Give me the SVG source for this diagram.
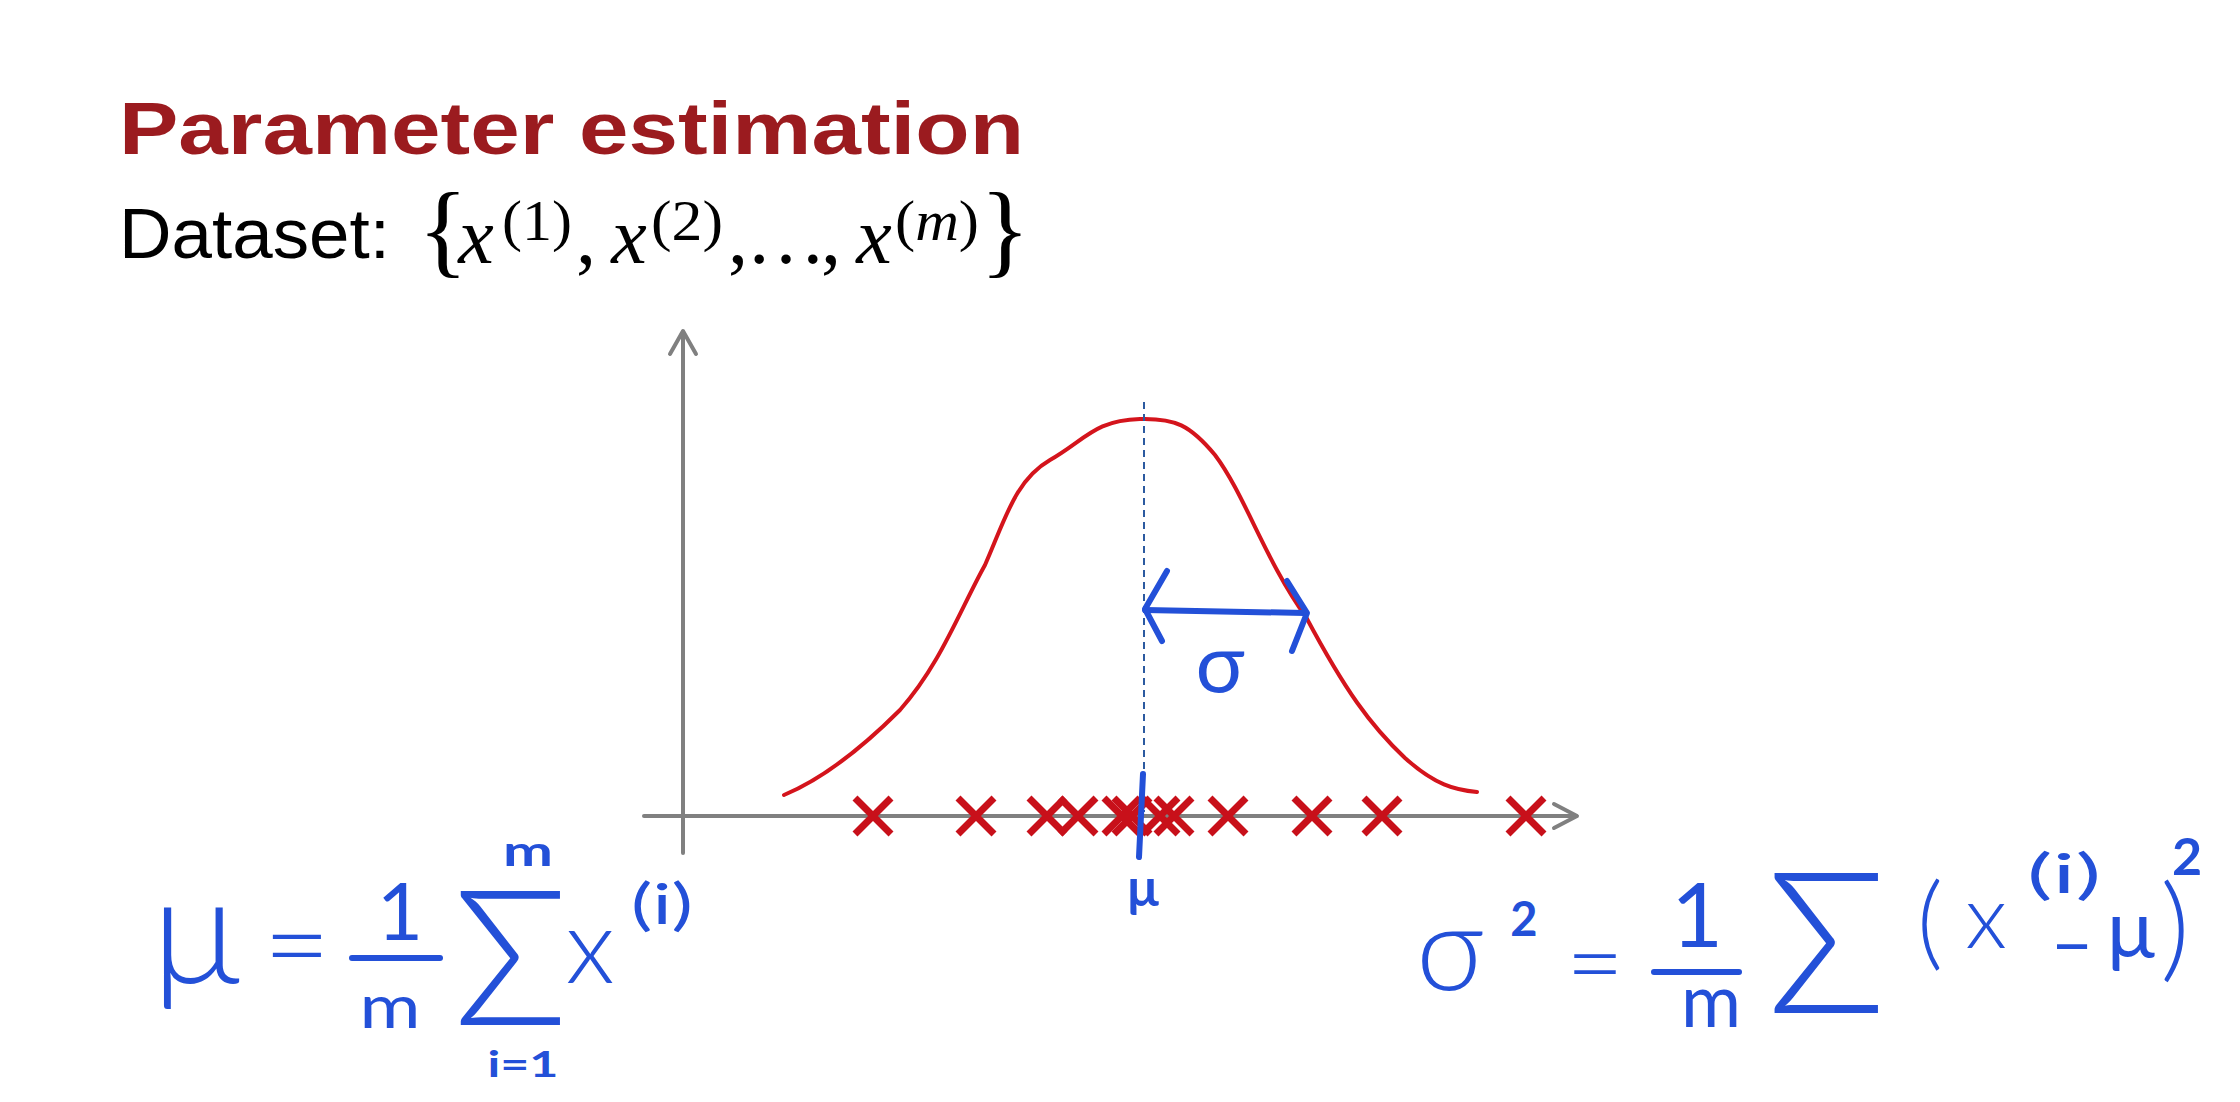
<svg xmlns="http://www.w3.org/2000/svg" width="2240" height="1102" viewBox="0 0 2240 1102">
<style>
.title{font-family:"Liberation Sans",Arial,sans-serif;font-weight:bold;fill:#9b1b1f}
.label{font-family:"Liberation Sans",Arial,sans-serif;fill:#000}
.math{font-family:"Liberation Serif","Times New Roman",serif;fill:#000}
.it{font-style:italic}
.hw{font-family:Lato,"DejaVu Sans",sans-serif;font-weight:300;fill:#2350d8;text-anchor:middle}
.hm{font-weight:400}
.hb{font-weight:700}
.axis{stroke:#808080;stroke-width:4;fill:none;stroke-linecap:round;stroke-linejoin:round}
.curve{stroke:#d4141c;stroke-width:4;fill:none;stroke-linecap:round;stroke-linejoin:round}
.xm{stroke:#c8101a;stroke-width:7;stroke-linecap:butt}
.blue{stroke:#2350d8;stroke-width:6;fill:none;stroke-linecap:round;stroke-linejoin:round}
</style>
<rect width="2240" height="1102" fill="#ffffff"/>
<g id="title">
<text class="title" x="119" y="154" font-size="74" textLength="905" lengthAdjust="spacingAndGlyphs">Parameter estimation</text>
</g>
<g id="dataset">
<text class="label" x="119" y="258" font-size="70" textLength="271" lengthAdjust="spacingAndGlyphs">Dataset:</text>
<g class="math" text-anchor="middle">
<text x="443" y="264" font-size="104">{</text>
<text class="it" x="476" y="263" font-size="80">x</text>
<text x="537" y="240" font-size="56" textLength="70" lengthAdjust="spacingAndGlyphs">(1)</text>
<text x="586" y="263" font-size="80">,</text>
<text class="it" x="629" y="263" font-size="80">x</text>
<text x="687" y="240" font-size="56" textLength="72" lengthAdjust="spacingAndGlyphs">(2)</text>
<text x="738" y="263" font-size="80">,</text>
<text x="786" y="263" font-size="80">…</text>
<text x="831" y="263" font-size="80">,</text>
<text class="it" x="874" y="263" font-size="80">x</text>
<text x="937" y="240" font-size="56" textLength="84" lengthAdjust="spacingAndGlyphs">(<tspan class="it">m</tspan>)</text>
<text x="1005" y="264" font-size="104">}</text>
</g>
</g>
<g id="axes">
<line class="axis" x1="683" y1="853" x2="683" y2="332"/>
<polyline class="axis" points="670,354 683,331 696,354"/>
<line class="axis" x1="644" y1="816" x2="1576" y2="816"/>
<polyline class="axis" points="1554,804 1577,816 1554,828"/>
</g>
<g id="gaussian-curve">
<path class="curve" d="M784,795 C820,780 860,750 900,710 C940,665 960,610 985,565 C1005,520 1015,480 1050,460 C1085,440 1095,420 1140,419 C1175,418 1190,425 1215,455 C1245,495 1265,560 1306,617 C1345,690 1370,725 1405,758 C1435,785 1455,790 1477,792"/>
</g>
<g id="mean-line">
<line x1="1144" y1="402" x2="1144" y2="812" stroke="#2c5aa0" stroke-width="2" stroke-dasharray="7,5"/>
</g>
<g id="data-points">
<path class="xm" d="M855,798 l36,36 M891,798 l-36,36"/>
<path class="xm" d="M958,798 l36,36 M994,798 l-36,36"/>
<path class="xm" d="M1029,798 l36,36 M1065,798 l-36,36"/>
<path class="xm" d="M1060,798 l36,36 M1096,798 l-36,36"/>
<path class="xm" d="M1104,798 l36,36 M1140,798 l-36,36"/>
<path class="xm" d="M1114,798 l36,36 M1150,798 l-36,36"/>
<path class="xm" d="M1142,798 l36,36 M1178,798 l-36,36"/>
<path class="xm" d="M1156,798 l36,36 M1192,798 l-36,36"/>
<path class="xm" d="M1210,798 l36,36 M1246,798 l-36,36"/>
<path class="xm" d="M1294,798 l36,36 M1330,798 l-36,36"/>
<path class="xm" d="M1364,798 l36,36 M1400,798 l-36,36"/>
<path class="xm" d="M1508,798 l36,36 M1544,798 l-36,36"/>
</g>
<g id="mu-marker">
<line class="blue" x1="1143" y1="774" x2="1139" y2="857" stroke-width="5"/>
<text class="hw hb" x="1143" y="906" font-size="52">μ</text>
</g>
<g id="sigma-arrow">
<polyline class="blue" points="1145,610 1305,613"/>
<polyline class="blue" points="1167,571 1145,609 1162,641"/>
<polyline class="blue" points="1287,581 1307,613 1292,651"/>
<text class="hw hm" x="1220" y="692" font-size="82">σ</text>
</g>
<g id="mean-formula">
<text class="hw" x="196" y="983" font-size="150">μ</text>
<text class="hw" x="297" y="985" font-size="116">=</text>
<text class="hw hm" x="400" y="940" font-size="80">1</text>
<line class="blue" x1="352" y1="958" x2="440" y2="958"/>
<text class="hw hm" x="390" y="1028" font-size="60" textLength="61" lengthAdjust="spacingAndGlyphs">m</text>
<text class="hw" x="511" y="1025" font-size="190">Σ</text>
<text class="hw hb" x="528" y="866" font-size="42" textLength="50" lengthAdjust="spacingAndGlyphs">m</text>
<text class="hw hb" x="523" y="1077" font-size="36" textLength="71" lengthAdjust="spacingAndGlyphs">i=1</text>
<text class="hw" x="590" y="983" font-size="105">x</text>
<text class="hw hm" x="662" y="924" font-size="56" textLength="62" lengthAdjust="spacingAndGlyphs">(i)</text>
</g>
<g id="variance-formula">
<text class="hw" x="1450" y="990" font-size="118">σ</text>
<text class="hw hb" x="1524" y="936" font-size="47">2</text>
<text class="hw" x="1595" y="998" font-size="100">=</text>
<text class="hw hm" x="1697" y="947" font-size="90">1</text>
<line class="blue" x1="1654" y1="972" x2="1739" y2="972"/>
<text class="hw hm" x="1711" y="1027" font-size="73">m</text>
<text class="hw" x="1827" y="1013" font-size="198">Σ</text>
<text class="hw" x="1930" y="957" font-size="102">(</text>
<text class="hw" x="1986" y="948" font-size="89">x</text>
<text class="hw hm" x="2064" y="893" font-size="54" textLength="74" lengthAdjust="spacingAndGlyphs">(i)</text>
<text class="hw hm" x="2072" y="970" font-size="70">−</text>
<text class="hw hm" x="2131" y="957" font-size="80">μ</text>
<text class="hw" x="2175" y="967" font-size="115">)</text>
<text class="hw hb" x="2187" y="875" font-size="52">2</text>
</g>
</svg>
